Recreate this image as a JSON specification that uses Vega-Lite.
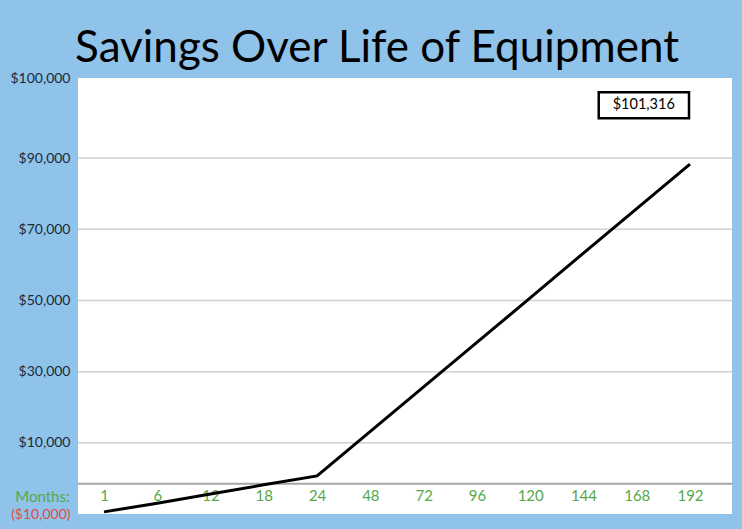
{
  "$schema": "https://vega.github.io/schema/vega-lite/v6.json",
  "width": 654,
  "height": 436,
  "autosize": {"type": "none"},
  "padding": {"left": 78, "top": 78, "right": 10, "bottom": 15},
  "background": "#8fc3ea",
  "title": {
    "text": "Savings Over Life of Equipment",
    "font": "Lato",
    "fontSize": 44,
    "fontWeight": "normal",
    "color": "#000000",
    "anchor": "middle",
    "dx": -28,
    "dy": 48,
    "offset": 4,
    "baseline": "bottom"
  },
  "config": {"view": {"fill": "white", "stroke": null}, "font": "Lato"},
  "datasets": {
    "savings": [
      {"month": "1", "savings": -9400},
      {"month": "6", "savings": -7000},
      {"month": "12", "savings": -4400},
      {"month": "18", "savings": -1800},
      {"month": "24", "savings": 700},
      {"month": "48", "savings": 13200},
      {"month": "72", "savings": 25700},
      {"month": "96", "savings": 38200},
      {"month": "120", "savings": 50700},
      {"month": "144", "savings": 63300},
      {"month": "168", "savings": 75800},
      {"month": "192", "savings": 88300}
    ],
    "grid": [
      {"v": 10000}, {"v": 30000}, {"v": 50000}, {"v": 70000}, {"v": 90000}
    ],
    "note": [{"label": "$101,316", "value": 101316}]
  },
  "layer": [
    {
      "data": {"name": "grid"},
      "mark": {"type": "rule", "color": "#d0d0d0", "strokeWidth": 1.5},
      "encoding": {"y": {"field": "v", "type": "quantitative"}}
    },
    {
      "data": {"name": "note"},
      "mark": {"type": "rule", "color": "#a6a6a6", "strokeWidth": 2},
      "encoding": {"y": {"datum": -1500}}
    },
    {
      "data": {"name": "savings"},
      "mark": {"type": "line", "color": "black", "strokeWidth": 3},
      "encoding": {
        "x": {
          "field": "month",
          "type": "ordinal",
          "sort": null,
          "scale": {"type": "point", "range": [26, 612], "padding": 0},
          "axis": {
            "title": "Months:",
            "titleColor": "#55a84a",
            "titleFont": "Lato",
            "titleFontSize": 15,
            "titleFontWeight": "normal",
            "titleAngle": 0,
            "titleX": -36,
            "titleY": 12,
            "titleAlign": "center",
            "titleBaseline": "middle",
            "labelColor": "#55a84a",
            "labelFontSize": 15,
            "labelAngle": 0,
            "labelPadding": 4,
            "ticks": false,
            "domain": false,
            "offset": -30,
            "grid": false
          }
        },
        "y": {
          "field": "savings",
          "type": "quantitative",
          "scale": {"domain": [-10000, 112500], "nice": false, "zero": false},
          "axis": {
            "title": null,
            "values": [-10000, 10000, 30000, 50000, 70000, 90000, 112500],
            "labelExpr": "datum.value < 0 ? '(' + format(-datum.value, '$,') + ')' : (datum.value > 100000 ? '$100,000' : format(datum.value, '$,'))",
            "labelFontSize": 14,
            "labelPadding": 8,
            "labelColor": {"condition": {"test": "datum.value < 0", "value": "#e04a3f"}, "value": "#1c2a39"},
            "ticks": false,
            "domain": false,
            "grid": false
          }
        }
      }
    },
    {
      "data": {"name": "note"},
      "mark": {"type": "rect", "fill": "white", "stroke": "black", "strokeWidth": 2.5, "xOffset": -38, "x2Offset": -1},
      "encoding": {
        "x": {"datum": "168"},
        "x2": {"datum": "192"},
        "y": {"datum": 108500},
        "y2": {"datum": 101200}
      }
    },
    {
      "data": {"name": "note"},
      "mark": {"type": "text", "dx": 7, "fontSize": 14.5, "color": "black"},
      "encoding": {
        "x": {"datum": "168"},
        "y": {"datum": 104900},
        "text": {"field": "label"}
      }
    }
  ]
}
